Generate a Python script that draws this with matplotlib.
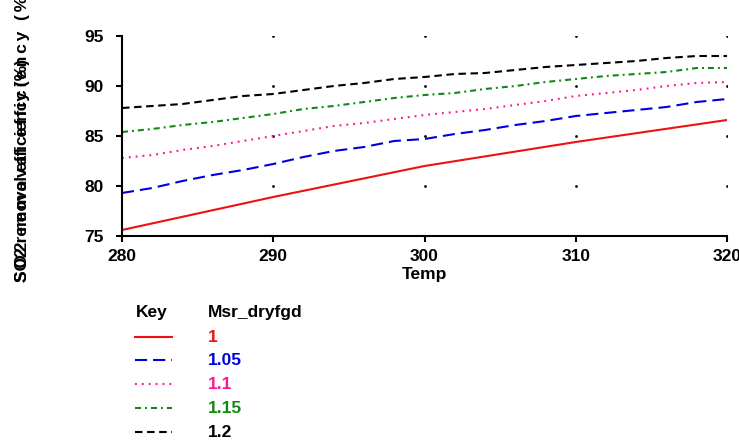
import numpy as np
import matplotlib
matplotlib.use("Agg")
import matplotlib.pyplot as plt
from matplotlib.lines import Line2D

plt.rcParams['font.family'] = ['Liberation Sans', 'DejaVu Sans']

temp = [280, 282, 284, 286, 288, 290, 292, 294, 296, 298, 300,
        302, 304, 306, 308, 310, 312, 314, 316, 318, 320]
temp_red = [280, 290, 300, 310, 320]
eff_100 = [75.6, 78.9, 82.0, 84.4, 86.6]
eff_105 = [79.3, 79.8, 80.5, 81.1, 81.6, 82.2, 82.9, 83.5, 83.9, 84.5, 84.7,
           85.2, 85.6, 86.1, 86.5, 87.0, 87.3, 87.6, 87.9, 88.4, 88.7]
eff_110 = [82.8, 83.1, 83.6, 84.0, 84.5, 85.0, 85.5, 86.0, 86.3, 86.7, 87.1,
           87.4, 87.7, 88.1, 88.5, 89.0, 89.3, 89.6, 90.0, 90.3, 90.4]
eff_115 = [85.4, 85.7, 86.1, 86.4, 86.8, 87.2, 87.7, 88.0, 88.4, 88.8, 89.1,
           89.3, 89.7, 90.0, 90.4, 90.7, 91.0, 91.2, 91.4, 91.8, 91.8]
eff_120 = [87.8, 88.0, 88.2, 88.6, 89.0, 89.2, 89.6, 90.0, 90.3, 90.7, 90.9,
           91.2, 91.3, 91.6, 91.9, 92.1, 92.3, 92.5, 92.8, 93.0, 93.0]
series_labels = ["1", "1.05", "1.1", "1.15", "1.2"]
x_ticks = [280, 290, 300, 310, 320]
y_ticks = [75, 80, 85, 90, 95]
y_label = "SO2 removal efficiency (%)"

colors = ["#ee1111", "#0000dd", "#ff1493", "#108a10", "#000000"]
styles = ["-", (0, (5.8, 2.9)), (0, (0.9, 2.4)), (0, (2.9, 1.9, 0.95, 1.9)), (0, (3.6, 2.2))]
FS = 12.5

fig = plt.figure(figsize=(7.39, 4.44), dpi=100)
ax = fig.add_axes([122/739, 1-236/444, (727-122)/739, 200/444])

xs = [temp_red, temp, temp, temp, temp]
ys = [eff_100, eff_105, eff_110, eff_115, eff_120]
for x, y, c, ls in zip(xs, ys, colors, styles):
    ax.plot(x, y, color=c, linestyle=ls, lw=1.5)

# dot grid at tick intersections
gx, gy = np.meshgrid(x_ticks[1:], y_ticks[1:])
ax.scatter(gx.ravel(), gy.ravel(), s=4, color="black", zorder=1, linewidths=0)

ax.set_xlim(280, 320)
ax.set_ylim(75, 95)
ax.set_xticks(x_ticks)
ax.set_yticks(y_ticks)
for s in ["top", "right"]:
    ax.spines[s].set_visible(False)
for s in ["left", "bottom"]:
    ax.spines[s].set_linewidth(1.5)
ax.tick_params(direction="out", length=4.3, width=1.5, labelsize=FS)
ax.tick_params(axis="y", pad=9)
ax.tick_params(axis="x", pad=5)
for lab in ax.get_xticklabels() + ax.get_yticklabels():
    lab.set_fontweight("bold")

ax.set_xlabel("Temp", fontsize=FS, fontweight="bold", labelpad=2)

# overlapping y-axis label (as in the reference)
fig.text(22/739, 1-282/444, y_label, rotation=90,
         rotation_mode="anchor", ha="left", va="center", fontsize=FS, fontweight="bold")
fig.text(22/739, 1-282/444, "\u2006".join(y_label), rotation=90,
         rotation_mode="anchor", ha="left", va="center", fontsize=FS, fontweight="bold")

# key
fig.text(136/739, 1-312/444, "Key", fontsize=FS, fontweight="bold", va="center", ha="left")
fig.text(208/739, 1-312/444, "Msr_dryfgd", fontsize=FS, fontweight="bold", va="center", ha="left")
key_y = [337, 360, 384, 408, 432]
for lab, c, ls, yy in zip(series_labels, colors, styles, key_y):
    fig.add_artist(Line2D([135/739, 172/739], [1-yy/444, 1-yy/444], color=c,
                          linestyle=ls, lw=1.5, transform=fig.transFigure))
    fig.text(208/739, 1-yy/444, lab, color=c, fontsize=FS, fontweight="bold",
             va="center", ha="left")

fig.savefig("out.png", dpi=100)
